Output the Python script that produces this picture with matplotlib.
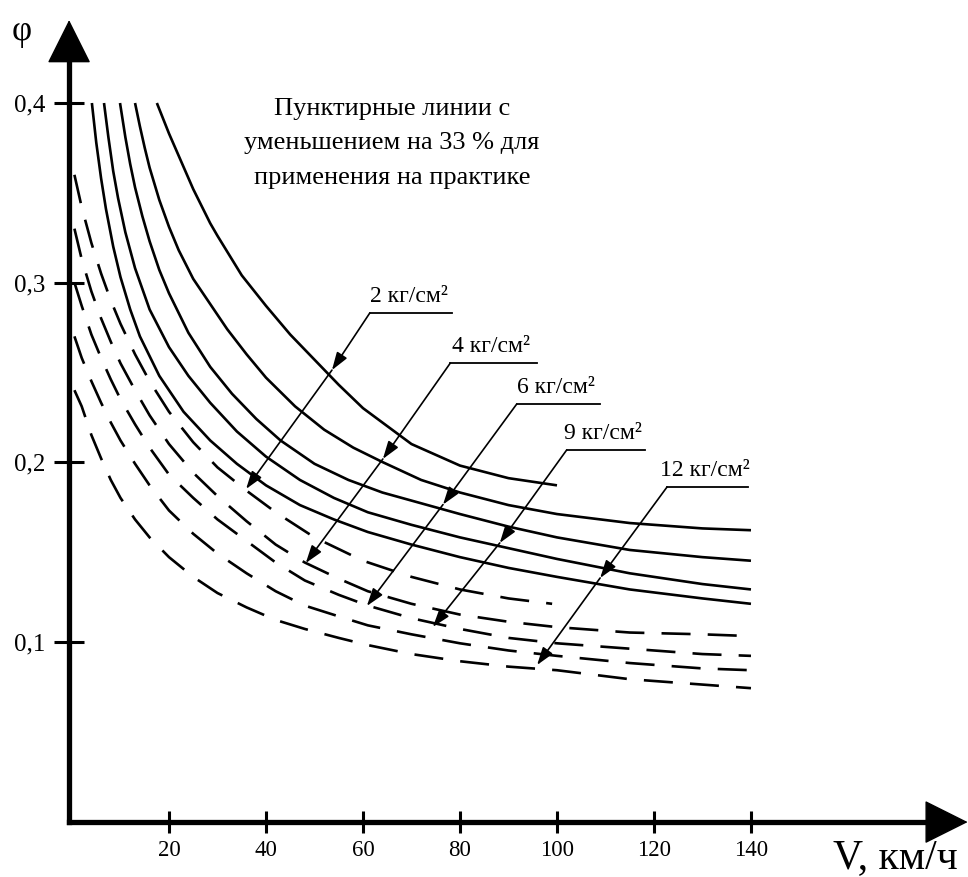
import matplotlib
matplotlib.use('Agg')
import matplotlib.pyplot as plt

plt.rcParams['font.family'] = ['Liberation Serif', 'DejaVu Serif']

# ---------------- data ----------------
speed_ticks = [20, 40, 60, 80, 100, 120, 140]
phi_ticks = [0.1, 0.2, 0.3, 0.4]
phi_tick_labels = ['0,1', '0,2', '0,3', '0,4']
pressure_labels = ['2 кг/см²', '4 кг/см²', '6 кг/см²', '9 кг/см²', '12 кг/см²']

# solid curves (measured)
v_solid_2 = [17.5, 20, 25, 28.5, 30, 35, 40, 45, 50, 55, 60, 70, 80, 90, 100]
phi_solid_2 = [0.400, 0.383, 0.352, 0.333, 0.326, 0.304, 0.287, 0.271, 0.257, 0.243, 0.230, 0.210, 0.198, 0.191, 0.187]

v_solid_4 = [13, 14, 15, 16, 18, 20, 22, 25, 28.5, 32, 36, 40, 46, 52, 58, 64, 72, 80, 90, 100, 115, 130, 140]
phi_solid_4 = [0.400, 0.387, 0.375, 0.364, 0.346, 0.331, 0.318, 0.302, 0.288, 0.274, 0.260, 0.247, 0.231, 0.218, 0.208, 0.200, 0.190, 0.183, 0.176, 0.171, 0.166, 0.163, 0.162]

v_solid_6 = [9.9, 11, 12, 13, 14.5, 16, 18, 20, 24, 28.5, 33, 38, 43, 50, 57, 64, 72, 80, 90, 100, 115, 130, 140]
phi_solid_6 = [0.400, 0.381, 0.366, 0.353, 0.337, 0.323, 0.307, 0.294, 0.272, 0.253, 0.238, 0.224, 0.212, 0.199, 0.190, 0.183, 0.177, 0.171, 0.164, 0.158, 0.151, 0.147, 0.145]

v_solid_9 = [6.6, 7.5, 8.5, 9.5, 11, 13, 16, 20, 24, 28.5, 34, 40, 47, 54, 61, 70, 80, 90, 100, 115, 130, 140]
phi_solid_9 = [0.400, 0.381, 0.362, 0.347, 0.328, 0.308, 0.285, 0.264, 0.248, 0.233, 0.217, 0.203, 0.190, 0.180, 0.172, 0.165, 0.158, 0.152, 0.146, 0.138, 0.132, 0.129]

v_solid_12 = [4.1, 5, 6, 7, 8.5, 10, 12, 14, 18, 23, 28.5, 34, 40, 47, 54, 61, 70, 80, 90, 100, 115, 130, 140]
phi_solid_12 = [0.400, 0.378, 0.358, 0.341, 0.320, 0.303, 0.285, 0.270, 0.248, 0.228, 0.212, 0.199, 0.187, 0.176, 0.168, 0.161, 0.154, 0.147, 0.141, 0.136, 0.129, 0.124, 0.121]

# dashed curves (measured, practical values)
v_dash_2 = [0.5, 2, 4, 6, 8, 10, 13, 16, 20, 25, 30, 36, 42, 50, 60, 70, 80, 90, 99]
phi_dash_2 = [0.360, 0.342, 0.322, 0.305, 0.290, 0.277, 0.260, 0.245, 0.228, 0.211, 0.197, 0.184, 0.172, 0.158, 0.145, 0.136, 0.129, 0.124, 0.121]

v_dash = [0.5, 2, 4, 6, 8, 10, 13, 16, 20, 25, 30, 36, 42, 48, 55, 61, 70, 80, 90, 100, 115, 130, 140]
phi_dash_4 = [0.330, 0.313, 0.295, 0.280, 0.267, 0.255, 0.240, 0.226, 0.210, 0.194, 0.181, 0.167, 0.154, 0.144, 0.135, 0.128, 0.121, 0.115, 0.111, 0.108, 0.105, 0.104, 0.103]
phi_dash_6 = [0.300, 0.287, 0.271, 0.258, 0.246, 0.235, 0.221, 0.208, 0.193, 0.180, 0.168, 0.156, 0.144, 0.134, 0.126, 0.120, 0.113, 0.107, 0.102, 0.099, 0.096, 0.093, 0.092]
phi_dash_9 = [0.270, 0.258, 0.245, 0.233, 0.222, 0.212, 0.199, 0.187, 0.173, 0.160, 0.149, 0.138, 0.128, 0.120, 0.114, 0.109, 0.104, 0.099, 0.095, 0.092, 0.088, 0.085, 0.084]
phi_dash_12 = [0.240, 0.231, 0.215, 0.202, 0.190, 0.180, 0.168, 0.158, 0.147, 0.136, 0.127, 0.119, 0.112, 0.107, 0.102, 0.098, 0.093, 0.089, 0.086, 0.084, 0.079, 0.076, 0.074]

# leader lines of the pressure labels (shelf start/end, arrow on solid, arrow end on dashed)
shelf_v_start = [61.4, 78.0, 91.7, 102.0, 122.7]
shelf_v_end = [78.4, 95.9, 108.9, 118.1, 139.4]
shelf_phi = [0.283, 0.2551, 0.2323, 0.2067, 0.1861]
arrow_mid_v = [53.6, 64.1, 76.5, 88.2, 108.9]
arrow_mid_phi = [0.2512, 0.2017, 0.1763, 0.1549, 0.1354]
arrow_end_v = [35.9, 48.2, 60.8, 74.4, 95.9]
arrow_end_phi = [0.185, 0.1437, 0.1198, 0.1081, 0.0869]

note_text = 'Пунктирные линии с\nуменьшением на 33 % для\nприменения на практике'

# ---------------- figure ----------------
W, H = 968, 877
fig = plt.figure(figsize=(W / 100, H / 100), dpi=100)
ax = fig.add_axes([69.09 / W, 54.92 / H, 897.7 / W, 802.0 / H])
ax.set_xlim(-0.6, 184.5)
ax.set_ylim(-0.0006, 0.4462)

for s in ['top', 'right']:
    ax.spines[s].set_visible(False)
for s in ['left', 'bottom']:
    ax.spines[s].set_linewidth(3.8)
    ax.spines[s].set_capstyle('projecting')
ax.spines['left'].set_bounds(-0.0006, 0.43)
ax.spines['bottom'].set_bounds(-0.6, 178)

# axis arrow heads
ax.annotate('', xy=(0, 1), xytext=(0, 0.95), xycoords='axes fraction',
            arrowprops=dict(arrowstyle='-|>,head_length=0.8,head_width=0.4',
                            mutation_scale=36, lw=1, color='black',
                            shrinkA=0, shrinkB=0), annotation_clip=False)
ax.annotate('', xy=(1.001, 0), xytext=(0.95, 0), xycoords='axes fraction',
            arrowprops=dict(arrowstyle='-|>,head_length=0.8,head_width=0.4',
                            mutation_scale=36, lw=1, color='black',
                            shrinkA=0, shrinkB=0), annotation_clip=False)

ax.set_xticks(speed_ticks)
ax.set_xticklabels([str(v) for v in speed_ticks])
ax.set_yticks(phi_ticks)
ax.set_yticklabels(phi_tick_labels)
ax.tick_params(axis='x', direction='inout', length=16, width=2.2, pad=5, labelsize=16.5)
ax.tick_params(axis='y', direction='inout', length=22, width=2.2, pad=6, labelsize=18)

solid = [(v_solid_2, phi_solid_2), (v_solid_4, phi_solid_4), (v_solid_6, phi_solid_6),
         (v_solid_9, phi_solid_9), (v_solid_12, phi_solid_12)]
dashed = [(v_dash_2, phi_dash_2), (v_dash, phi_dash_4), (v_dash, phi_dash_6),
          (v_dash, phi_dash_9), (v_dash, phi_dash_12)]

for v, p in solid:
    ax.plot(v, p, color='black', lw=1.9, solid_capstyle='butt', solid_joinstyle='round')
for v, p in dashed:
    ax.plot(v, p, color='black', lw=1.9, linestyle=(0, (11, 6.5)))

head = '-|>,head_length=0.9,head_width=0.3'
for i, lab in enumerate(pressure_labels):
    ax.plot([shelf_v_start[i], shelf_v_end[i]], [shelf_phi[i], shelf_phi[i]],
            color='black', lw=1.3)
    ax.annotate('', xy=(arrow_mid_v[i], arrow_mid_phi[i]),
                xytext=(shelf_v_start[i], shelf_phi[i]),
                arrowprops=dict(arrowstyle=head, mutation_scale=12, lw=1.2,
                                color='black', shrinkA=0, shrinkB=0))
    ax.annotate('', xy=(arrow_end_v[i], arrow_end_phi[i]),
                xytext=(arrow_mid_v[i], arrow_mid_phi[i]),
                arrowprops=dict(arrowstyle=head, mutation_scale=12, lw=1.2,
                                color='black', shrinkA=0, shrinkB=0))
    ax.text((shelf_v_start[i] + shelf_v_end[i]) / 2 - 0.5, shelf_phi[i] + 0.0035, lab,
            ha='center', va='bottom', fontsize=17)

ax.text(66.0, 0.4027, note_text, ha='center', va='top', fontsize=19, linespacing=1.72)

fig.text(22 / W, 1 - 32 / H, 'φ', ha='center', va='center', fontsize=25)
fig.text(833 / W, 9 / H, 'V, км/ч', ha='left', va='baseline', fontsize=30)

fig.savefig('out.png', dpi=100)
